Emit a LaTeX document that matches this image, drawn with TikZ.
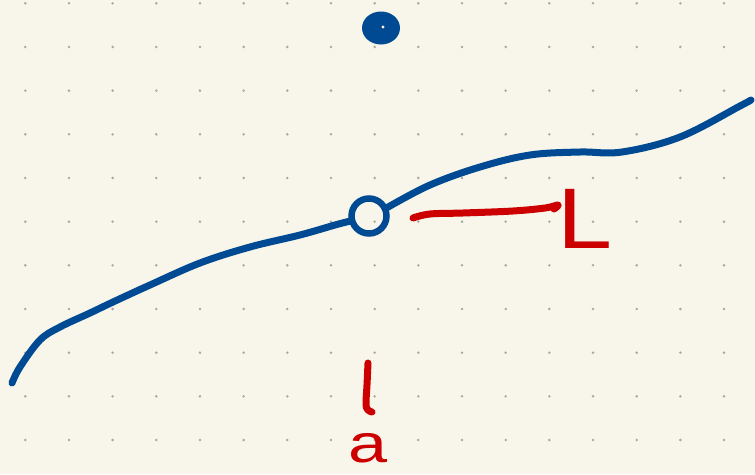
\documentclass[tikz,border=0pt]{standalone}
\usepackage{fontspec}
\setmainfont{Liberation Sans}
\usetikzlibrary{shapes.geometric}
\definecolor{paper}{HTML}{F8F6EA}
\definecolor{griddot}{HTML}{ABA9A0}
\definecolor{inkblue}{HTML}{004A94}
\definecolor{inkred}{HTML}{CC0000}
\begin{document}
\begin{tikzpicture}[x=1pt,y=-1pt,
  pen/.style={line width=7pt,line cap=round,line join=round},
  bluepen/.style={pen,draw=inkblue},
  redpen/.style={pen,draw=inkred,line width=7pt},
  redtext/.style={text=inkred,inner sep=0pt,anchor=base west}]
\fill[paper] (0,0) rectangle (755,474);
\useasboundingbox (0,0) rectangle (755,474);
% dot grid
\foreach \i in {0,...,17}{
  \foreach \j in {0,...,10}{
    \fill[griddot] (25.3+43.67*\i,3.3+43.67*\j) circle (1.4pt);
  }
}
% filled point
\node (d) [ellipse,fill=inkblue,minimum width=38pt,minimum height=33pt,inner sep=0pt] at (381,28) {};
\fill[paper] (383,27) circle (1.6pt);
% hollow point
\node (c) [circle,draw=inkblue,line width=6.5pt,minimum size=35pt,inner sep=0pt] at (369,216) {};
% blue curve
\draw[bluepen] plot[smooth,tension=0.6] coordinates {(12,383) (20,367) (40,340) (60,327) (90,313) (113,302) (150,285) (200,263) (250,247) (300,235) (335,225) (c.195)};
\draw[bluepen] plot[smooth,tension=0.6] coordinates {(c.25) (430,185) (480,167) (530,155) (580,152) (622,152) (680,137) (740,106) (751,100)};
% red segment
\coordinate (r0) at (413,218);
\coordinate (r1) at (558,205);
\draw[redpen] plot[smooth,tension=0.6] coordinates {(r0) (430,214) (463,213) (513,211) (545,208) (r1) (554,209)};
% L label
\node (L) [redtext,font=\fontsize{86}{86}\selectfont,xscale=1.15] at (557,248) {L};
% tick
\draw[redpen] plot[smooth,tension=0.6] coordinates {(368,363) (367,385) (366,404) (368,410) (372,412)};
% a label
\node (a) [redtext,font=\fontsize{54}{54}\selectfont,xscale=1.3] at (348,462) {a};
\end{tikzpicture}
\end{document}
